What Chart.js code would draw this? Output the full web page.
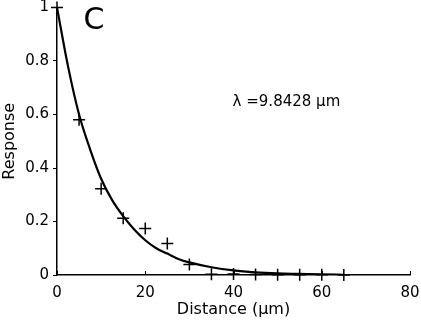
<!DOCTYPE html>
<html>
<head>
<meta charset="utf-8">
<script src="https://cdn.jsdelivr.net/npm/chart.js@4"></script>
<style>
  html, body { margin: 0; padding: 0; background: #fff; }
  #wrap { width: 421px; height: 323px; }
</style>
</head>
<body>
<div id="wrap"><canvas id="chart1"></canvas></div>
<script>
// measured responses (+ markers)
const distances = [0, 5, 10, 15, 20, 25, 30, 35, 40, 45, 50, 55, 60, 65];
const responses = [1, 0.58, 0.322, 0.212, 0.174, 0.118, 0.039, 0.003, 0.004, 0.002, 0.001, 0.001, 0.001, 0.0];

// fitted curve
const fitX = [0, 2.5, 5, 7.5, 10, 12.5, 15, 17.5, 20, 22.5, 25, 27.5, 30, 35, 40, 45, 50, 55, 60, 65];
const fitY = [1, 0.78, 0.60, 0.47, 0.36, 0.28, 0.22, 0.17, 0.13, 0.10, 0.08, 0.06, 0.047, 0.029, 0.017, 0.01, 0.006, 0.004, 0.002, 0.001];

const xTicks = [0, 20, 40, 60, 80];
const yTicks = [0, 0.2, 0.4, 0.6, 0.8, 1];

const FONT = "'DejaVu Sans', sans-serif";

// inward tick marks on the x axis + text notes
const extras = {
  id: 'extras',
  afterDraw(chart) {
    const c = chart.ctx, x = chart.scales.x, y = chart.scales.y;
    c.save();
    c.strokeStyle = '#000';
    c.lineWidth = 1;
    xTicks.forEach(v => {
      const px = Math.round(x.getPixelForValue(v)) + 0.5;
      c.beginPath();
      c.moveTo(px, y.bottom);
      c.lineTo(px, y.bottom - 4);
      c.stroke();
    });
    c.fillStyle = '#000';
    c.textBaseline = 'middle';
    c.font = '30px ' + FONT;
    c.fillText('C', x.getPixelForValue(6), y.getPixelForValue(0.95));
    c.font = '15px ' + FONT;
    c.fillText('\u03bb =9.8428 \u00b5m', x.getPixelForValue(39.8), y.getPixelForValue(0.645));
    c.restore();
  }
};

const ctx = document.getElementById('chart1').getContext('2d');
new Chart(ctx, {
  type: 'scatter',
  data: {
    datasets: [
      {
        type: 'line',
        label: 'fit',
        data: fitX.map((v, i) => ({x: v, y: fitY[i]})),
        borderColor: '#000',
        borderWidth: 2.2,
        pointRadius: 0,
        cubicInterpolationMode: 'monotone',
        fill: false
      },
      {
        label: 'data',
        data: distances.map((v, i) => ({x: v, y: responses[i]})),
        pointStyle: 'cross',
        pointRadius: 6,
        borderColor: '#000',
        borderWidth: 1.5,
        clip: false
      }
    ]
  },
  plugins: [extras],
  options: {
    responsive: true,
    maintainAspectRatio: false,
    animation: false,
    layout: { padding: { left: 0, top: 7, right: 0, bottom: 0 } },
    plugins: {
      legend: { display: false },
      tooltip: { enabled: false }
    },
    scales: {
      x: {
        type: 'linear',
        min: 0, max: 80,
        afterBuildTicks: s => { s.ticks = xTicks.map(v => ({value: v})); },
        afterFit: s => { s.height = 48; s.paddingLeft = 0; s.paddingRight = 11; },
        grid: { display: false, drawTicks: false },
        border: { display: true, color: '#000', width: 1.5 },
        ticks: { color: '#000', font: { family: FONT, size: 15 }, padding: 9, maxRotation: 0 },
        title: { display: true, text: 'Distance (\u00b5m)', color: '#000', font: { family: FONT, size: 16 }, padding: { top: 0 } }
      },
      y: {
        type: 'linear',
        min: 0, max: 1,
        afterBuildTicks: s => { s.ticks = yTicks.map(v => ({value: v})); },
        afterFit: s => { s.width = 57; s.paddingTop = 0; s.paddingBottom = 0; },
        grid: { drawOnChartArea: false, drawTicks: true, tickLength: 4, color: '#000' },
        border: { display: true, color: '#000', width: 1.5 },
        ticks: { color: '#000', font: { family: FONT, size: 15 }, padding: 4, callback: v => String(v) },
        title: { display: true, text: 'Response', color: '#000', font: { family: FONT, size: 16 }, padding: 0 }
      }
    }
  }
});
</script>
</body>
</html>
